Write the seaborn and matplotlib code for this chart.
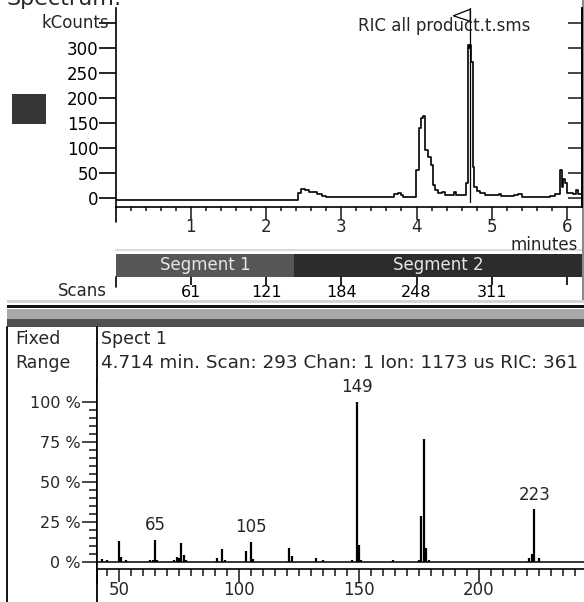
import numpy as np
import pandas as pd
import matplotlib.pyplot as plt
import seaborn as sns
from matplotlib.patches import Rectangle, Polygon
from matplotlib.lines import Line2D

# RIC chromatogram (minutes vs kCounts)
ric_time = [0.0, 2.41, 2.43, 2.47, 2.52, 2.57, 2.64, 2.68, 2.74, 2.80, 3.65, 3.70, 3.75,
            3.79, 3.82, 3.95, 3.99, 4.03, 4.06, 4.09, 4.11, 4.15, 4.19, 4.22, 4.25, 4.29,
            4.34, 4.38, 4.47, 4.50, 4.53, 4.63, 4.66, 4.68, 4.70, 4.71, 4.72, 4.73,
            4.75, 4.77, 4.80, 4.85, 4.91, 5.07, 5.09, 5.12, 5.27, 5.29, 5.35, 5.40, 5.78,
            5.84, 5.90, 5.91, 5.93, 5.95, 5.97, 6.00, 6.08, 6.12, 6.15, 6.20]
ric_kcounts = [-3.4, -3.4, 10, 18, 16, 13, 13, 9, 5, 3.3, 3.3, 8, 11,
               6, 3.3, 3.3, 57, 140, 160, 165, 97, 83, 67, 27, 17, 10,
               12, 7, 7, 13, 7, 7, 31, 307, 300, 307, 273, 273,
               63, 23, 15, 10, 6, 6, 9, 4, 4, 7, 8, 3, 5,
               8, 8, 57, 23, 38, 30, 10, 8, 17, 8, 8]
cursor_time = 4.714

# acquisition segments and scan numbers
segment_names = ["Segment 1", "Segment 2"]
segment_start = [0.0, 2.375]
segment_end = [2.375, 6.2]
scan_minutes = [1, 2, 3, 4, 5, 6]
scan_labels = ["61", "121", "184", "248", "311", ""]

# spectrum at 4.714 min (m/z vs relative %)
spec_mz = [43, 45, 50, 51, 53, 63, 64, 65, 66, 73, 74, 75, 76, 77, 78, 91, 93, 94,
           103, 105, 106, 121, 122, 132, 135, 147, 149, 150, 151, 164, 175, 176, 177,
           178, 179, 221, 222, 223, 225]
spec_pct = [2, 1.5, 13, 3, 1, 1, 1, 14, 1, 1.5, 3, 2.5, 12, 4.5, 1, 2.5, 8, 1,
            7, 12.7, 2, 9, 4, 2.5, 1, 1, 100, 10.6, 1, 1, 1.5, 29, 77,
            9, 1, 2.5, 5, 33, 2.5]
label_mz = [65, 105, 149, 223]

W, H = 584, 602
sns.set_style("white")
plt.rcParams['font.family'] = ['DejaVu Sans']


def fbox(l, t, r, b):
    return [l / W, 1 - b / H, (r - l) / W, (b - t) / H]


def fx(px):
    return px / W


def fy(py):
    return 1 - py / H


def hline(y, x0, x1, color="black", lw=1.0):
    fig.add_artist(Line2D([fx(x0), fx(x1)], [fy(y), fy(y)], color=color, lw=lw,
                          transform=fig.transFigure, zorder=0))


def vline(x, y0, y1, color="black", lw=1.0):
    fig.add_artist(Line2D([fx(x), fx(x)], [fy(y0), fy(y1)], color=color, lw=lw,
                          transform=fig.transFigure, zorder=0))


def rect(l, t, r, b, color):
    fig.add_artist(Rectangle((fx(l), fy(b)), (r - l) / W, (b - t) / H, color=color,
                             transform=fig.transFigure, lw=0, zorder=0))


fig = plt.figure(figsize=(W / 100, H / 100), dpi=100)

# header bits
fig.text(fx(7), fy(5), "Spectrum:", fontsize=16, va="baseline", ha="left")
rect(12, 94, 46, 124, "#363636")

# ---- chromatogram ----
ax1 = fig.add_axes(fbox(115.7, 8, 582, 207.3))
ric = pd.DataFrame({"minutes": ric_time, "kCounts": ric_kcounts})
sns.lineplot(data=ric, x="minutes", y="kCounts", ax=ax1, color="black", lw=1.2,
             drawstyle="steps-post", estimator=None)
ax1.set_xlim(0, 6.2)
ax1.set_ylim(-18, 380.6)
ax1.set_xlabel("")
ax1.set_ylabel("")
ax1.spines["top"].set_visible(False)
for s in ["left", "bottom", "right"]:
    ax1.spines[s].set_color("black")
    ax1.spines[s].set_linewidth(1.2)
ax1.set_yticks(np.arange(0, 351, 50))
ax1.set_yticklabels([str(v) for v in range(0, 301, 50)] + [""])
ax1.tick_params(axis="y", left=True, direction="out", length=12, width=1.2, pad=0.5,
                labelsize=12, colors="black")
ax1.set_xticks(range(1, 7))
ax1.set_xticks(np.arange(0.2, 6.2, 0.2), minor=True)
ax1.tick_params(axis="x", which="major", bottom=True, direction="out", length=9.5,
                width=1.2, pad=-1.5, labelsize=12)
ax1.tick_params(axis="x", which="minor", bottom=True, direction="out", length=3.2, width=1.2)
ax1.plot([0, 0], [-18, -47], color="black", lw=1.2, clip_on=False)
ax1.annotate("kCounts", (0, 350), xycoords=("axes fraction", "data"), xytext=(-5, 0),
             textcoords="offset points", ha="right", va="center", fontsize=12)

# cursor with flag
ax1.plot([cursor_time, cursor_time], [-7, 380], color="black", lw=0.9)
ax1.add_patch(Polygon([(cursor_time, 378), (cursor_time - 0.225, 365), (cursor_time, 354)],
                      closed=True, facecolor="white", edgecolor="black", lw=0.9, zorder=5))

ax1r = ax1.twinx()
ax1r.set_ylim(ax1.get_ylim())
ax1r.set_yticks(np.arange(0, 351, 50))
ax1r.tick_params(axis="y", right=True, direction="in", length=10, width=1.2, labelright=False)
ax1r.grid(False)
for s in ["top", "left", "bottom"]:
    ax1r.spines[s].set_visible(False)
ax1r.spines["right"].set_color("black")
ax1r.spines["right"].set_linewidth(1.2)

fig.text(fx(358), fy(26), "RIC all product.t.sms", fontsize=12, ha="left", va="center")
fig.text(fx(578), fy(245), "minutes", fontsize=12, ha="right", va="center")

# ---- segment bar + scans ----
hline(250, 116, 582, color="#dcdcdc", lw=1.5)
ax2 = fig.add_axes(fbox(115.7, 254, 582, 277))
seg_colors = ["#565656", "#2c2c2c"]
ax2.barh([0, 0], [e - s for s, e in zip(segment_start, segment_end)], left=segment_start,
         height=1, color=seg_colors, edgecolor="none")
for name, s, e in zip(segment_names, segment_start, segment_end):
    ax2.text((s + e) / 2, 0, name, color="#e6e6e6", ha="center", va="center", fontsize=12)
ax2.set_xlim(0, 6.2)
ax2.set_ylim(-0.5, 0.5)
ax2.set_yticks([])
for s in ax2.spines.values():
    s.set_visible(False)
ax2.set_xticks(scan_minutes)
ax2.set_xticklabels(scan_labels)
ax2.tick_params(axis="x", bottom=True, direction="out", length=6, width=1.2, pad=-0.5,
                labelsize=11.5, colors="black")
ax2.plot([0, 0], [-0.5, -0.95], color="black", lw=1.2, clip_on=False)
fig.text(fx(107), fy(291), "Scans", fontsize=12, ha="right", va="center")

vline(583, 0, 300, color="#8a8a8a", lw=1.5)

# separator between panes
rect(7, 300, 584, 302.5, "#d4d4d4")
rect(7, 304.5, 584, 307.5, "#111111")
rect(7, 309, 584, 319, "#a9a9a9")
rect(7, 319, 584, 327, "#505050")

# ---- spectrum pane ----
vline(7, 327, 602, lw=1.3)
vline(97, 327, 602, lw=1.3)
fig.text(fx(15), fy(339), "Fixed", fontsize=12.5, ha="left", va="center")
fig.text(fx(15), fy(363), "Range", fontsize=12.5, ha="left", va="center")
fig.text(fx(101), fy(339), "Spect 1", fontsize=12.5, ha="left", va="center")
fig.text(fx(101), fy(363), "4.714 min. Scan: 293 Chan: 1 Ion: 1173 us RIC: 361",
         fontsize=13.2, ha="left", va="center")

ax3 = fig.add_axes(fbox(97, 380, 584, 569.3))
ax3.vlines(spec_mz, 0, spec_pct, color="black", lw=1.6)
ax3.axhline(0, color="black", lw=1.1)
ax3.set_xlim(40.83, 243.75)
ax3.set_ylim(-4.56, 113.75)
for s in ["top", "right"]:
    ax3.spines[s].set_visible(False)
for s in ["left", "bottom"]:
    ax3.spines[s].set_color("black")
    ax3.spines[s].set_linewidth(1.2)
ax3.set_yticks([0, 25, 50, 75, 100])
ax3.set_yticklabels(["0 %", "25 %", "50 %", "75 %", "100 %"])
ax3.set_yticks(np.arange(0, 101, 5), minor=True)
ax3.tick_params(axis="y", which="major", left=True, direction="out", length=10.8, width=1.2,
                pad=1, labelsize=11.5)
ax3.tick_params(axis="y", which="minor", left=True, direction="out", length=5.8, width=1.2)
ax3.set_xticks([50, 100, 150, 200])
ax3.set_xticks(np.arange(45, 245, 5), minor=True)
ax3.tick_params(axis="x", which="major", bottom=True, direction="out", length=9.4, width=1.2,
                pad=-1, labelsize=12)
ax3.tick_params(axis="x", which="minor", bottom=True, direction="out", length=5, width=1.2)
ax3.plot([40.83, 40.83], [-4.56, -13.3], color="black", lw=1.2, clip_on=False)
for mz in label_mz:
    pct = spec_pct[spec_mz.index(mz)]
    ax3.annotate(str(mz), (mz, pct), xytext=(0, 4), textcoords="offset points",
                 ha="center", va="bottom", fontsize=12)

fig.savefig("out.png", dpi=100)
